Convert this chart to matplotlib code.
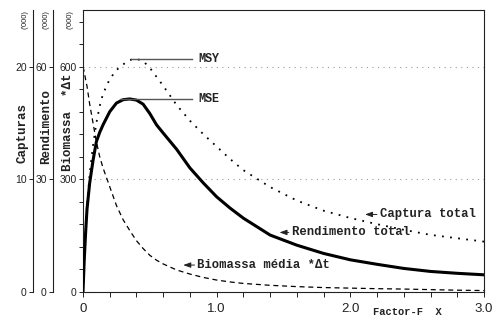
import matplotlib
matplotlib.use("Agg")
import matplotlib.pyplot as plt
import numpy as np
from matplotlib.ticker import FixedLocator, MultipleLocator

# values (F factor on x)
factor_f = [0, 0.01, 0.02, 0.03, 0.05, 0.075, 0.1, 0.125, 0.15, 0.2, 0.25, 0.3,
            0.35, 0.4, 0.45, 0.5, 0.55, 0.6, 0.7, 0.8, 0.9, 1.0, 1.1, 1.2, 1.4,
            1.6, 1.8, 2.0, 2.2, 2.4, 2.6, 2.8, 3.0]
# Capturas ('000), left-most axis 0-25
captura = [0, 3, 5.5, 7.5, 10.5, 13, 15, 16.5, 17.6, 18.9, 19.7, 20.2,
           20.6, 20.7, 20.5, 19.9, 19.1, 18.3, 16.6, 15.2, 14.0, 12.9, 11.8, 10.8, 9.3,
           8.1, 7.2, 6.55, 6.0, 5.5, 5.05, 4.75, 4.45]
# Rendimento ('000), middle axis 0-75
rendimento = [0, 9, 16, 22, 29, 35, 40, 42.5, 44.5, 48, 50.3, 51.2,
              51.4, 51.1, 50, 47.5, 44.5, 42.3, 38, 33, 29, 25.3, 22.3, 19.6, 15.1,
              12.4, 10.2, 8.5, 7.3, 6.2, 5.4, 4.9, 4.5]
# Biomassa *dt ('000), main axis 0-750
biomassa = [600, 585, 565, 548, 500, 450, 400, 360, 330, 280, 230, 192,
            163, 136, 115, 97, 84, 74, 58, 47, 38, 31, 26, 22, 17,
            13.5, 11, 9.5, 8, 7, 5.5, 4, 3]

x_ticks = [0, 1, 2, 3]
x_labels = ["0", "1.0", "2.0", "3.0"]
biom_ticks = [0, 300, 600]
rend_ticks = [0, 30, 60]
capt_ticks = [0, 10, 20]

mono = "Liberation Mono"
sans = "Liberation Sans"
ink = "#222222"

fig = plt.figure(figsize=(5.0, 3.27), dpi=100)
ax = fig.add_axes([0.166, 0.108, 0.802, 0.860])
ax_r = ax.twinx()
ax_c = ax.twinx()

for a, off in [(ax_r, -0.0748), (ax_c, -0.1247)]:
    for s in ["right", "top", "bottom"]:
        a.spines[s].set_visible(False)
    a.spines["left"].set_visible(True)
    a.spines["left"].set_position(("axes", off))
    a.spines["left"].set_color(ink)
    a.spines["left"].set_linewidth(0.8)
    a.yaxis.set_ticks_position("left")
    a.yaxis.set_label_position("left")

for s in ax.spines.values():
    s.set_color(ink)
    s.set_linewidth(0.8)

# curves
ax.plot(factor_f, biomassa, color="black", lw=0.9, linestyle=(0, (4, 3)))
ax_r.plot(factor_f, rendimento, color="black", lw=2.2, solid_joinstyle="round")
ax_c.plot(factor_f, captura, color="black", lw=1.3, linestyle=(0, (1, 3.5)))

ax.set_xlim(0, 3)
ax.set_ylim(0, 750)
ax_r.set_ylim(0, 75)
ax_c.set_ylim(0, 25)

ax.xaxis.set_major_locator(FixedLocator(x_ticks))
ax.set_xticklabels(x_labels)
ax.xaxis.set_minor_locator(MultipleLocator(0.2))
ax.yaxis.set_major_locator(FixedLocator(biom_ticks))
ax.yaxis.set_minor_locator(MultipleLocator(60))
ax_r.yaxis.set_major_locator(FixedLocator(rend_ticks))
ax_c.yaxis.set_major_locator(FixedLocator(capt_ticks))

ax.tick_params(axis="x", which="both", direction="out", length=3.5, width=0.7,
               color=ink, labelsize=9.5, pad=5)
for a in [ax, ax_r, ax_c]:
    a.tick_params(axis="y", which="both", direction="out", length=3, width=0.7,
                  color=ink, labelsize=7.5, pad=1.5)
for a in [ax, ax_r, ax_c]:
    for lab in a.get_xticklabels() + a.get_yticklabels():
        lab.set_fontfamily(sans)
        lab.set_color(ink)

ax.yaxis.grid(True, which="major", color="#999999", lw=0.8, linestyle=(0, (1, 4)))
ax.set_axisbelow(True)

# axis titles
lab_kw = dict(transform=ax.transAxes, rotation=90, ha="center", va="center",
              fontfamily=mono, fontweight="bold", fontsize=9, color=ink)
ax.text(-0.152, 0.564, "Capturas", **lab_kw)
ax.text(-0.0923, 0.586, "Rendimento", **lab_kw)
ax.text(-0.0374, 0.603, "Biomassa  *Δt", **lab_kw)
for xp in [-0.1446, -0.0923, -0.0324]:
    ax.text(xp, 0.966, "('000)", transform=ax.transAxes, rotation=90, ha="center",
            va="center", fontfamily=sans, fontsize=5.5, color=ink)

ax.text(0.808, -0.072, "Factor-F  X", transform=ax.transAxes, ha="center", va="center",
        fontfamily=mono, fontweight="bold", fontsize=7.5, color=ink)

# MSY / MSE markers
i_c = int(np.argmax(captura))
ax_c.plot([factor_f[i_c] - 0.04, 0.815], [captura[i_c]] * 2, color="#555555", lw=1)
ax_c.text(0.86, captura[i_c], "MSY", ha="left", va="center", fontfamily=mono,
          fontweight="bold", fontsize=8.5, color=ink)
i_r = int(np.argmax(rendimento))
ax_r.plot([factor_f[i_r] - 0.07, 0.815], [rendimento[i_r]] * 2, color="#555555", lw=1)
ax_r.text(0.86, rendimento[i_r], "MSE", ha="left", va="center", fontfamily=mono,
          fontweight="bold", fontsize=8.5, color=ink)

# curve labels with arrows
arrow = dict(arrowstyle="-|>,head_length=0.5,head_width=0.18", color=ink, lw=0.7,
             shrinkA=0, shrinkB=0)
txt_kw = dict(ha="left", va="center", fontfamily=mono, fontweight="bold",
              fontsize=8.8, color=ink)
ax.annotate("Captura total", xy=(2.11, 206), xytext=(2.22, 206), arrowprops=arrow, **txt_kw)
ax.annotate("Rendimento total", xy=(1.47, 158), xytext=(1.56, 158), arrowprops=arrow, **txt_kw)
ax.annotate("Biomassa média *Δt", xy=(0.75, 71), xytext=(0.855, 71), arrowprops=arrow, **txt_kw)

fig.savefig("out.png", dpi=100, facecolor="white")
